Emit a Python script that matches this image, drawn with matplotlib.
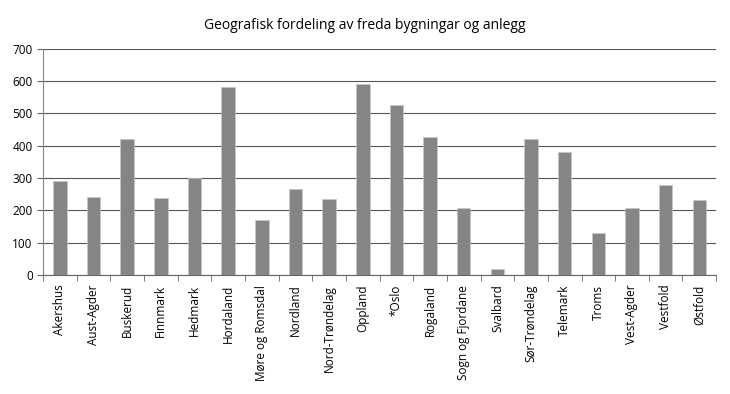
import matplotlib
matplotlib.use("Agg")
import matplotlib.pyplot as plt
import numpy as np

plt.rcParams['font.family'] = ['Open Sans', 'DejaVu Sans']

fylker = ["Akershus", "Aust-Agder", "Buskerud", "Finnmark", "Hedmark", "Hordaland",
          "Møre og Romsdal", "Nordland", "Nord-Trøndelag", "Oppland", "*Oslo",
          "Rogaland", "Sogn og Fjordane", "Svalbard", "Sør-Trøndelag", "Telemark",
          "Troms", "Vest-Agder", "Vestfold", "Østfold"]
antall = [290, 240, 420, 237, 300, 582, 170, 267, 235, 592, 527,
          428, 206, 19, 420, 382, 129, 206, 278, 233]
yticks = [0, 100, 200, 300, 400, 500, 600, 700]

fig = plt.figure(figsize=(7.3, 3.94), dpi=100)
ax = fig.add_axes([0.059, 0.302, 0.922, 0.574])

x = np.arange(len(fylker))
ax.bar(x, antall, width=0.4, color="#858585", edgecolor="#c8c8c8", linewidth=0.5, zorder=3)

ax.set_xlim(-0.5, len(fylker) - 0.5)
ax.set_ylim(0, 700)
ax.set_yticks(yticks)
ax.yaxis.grid(True, color="#555555", linewidth=0.8, zorder=0)
ax.set_xticks(x)
ax.set_xticklabels(fylker, rotation=90, fontsize=8.5)
ax.set_xticks(np.arange(-0.5, len(fylker) + 0.5, 1), minor=True)
ax.tick_params(axis="x", which="major", length=0, pad=7)
ax.tick_params(axis="x", which="minor", length=4, color="#666666")
ax.tick_params(axis="y", length=4, color="#666666", labelsize=8.5)
for s in ["top", "right"]:
    ax.spines[s].set_visible(False)
ax.spines["left"].set_color("#888888")
ax.spines["bottom"].set_color("#666666")

fig.suptitle("Geografisk fordeling av freda bygningar og anlegg", y=0.955, fontsize=10)
fig.savefig("out.png", dpi=100)
